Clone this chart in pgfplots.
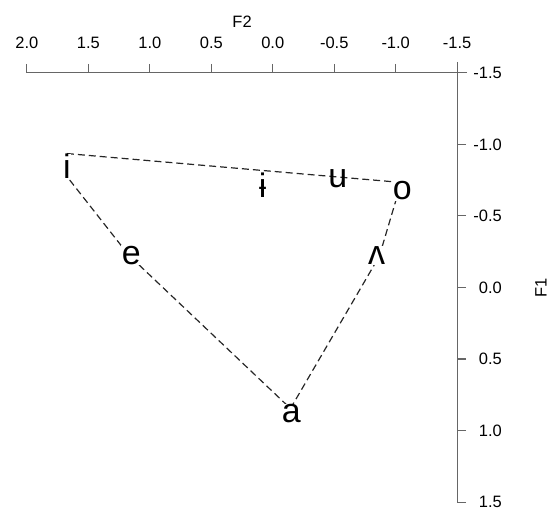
\documentclass[border=0pt]{standalone}
\usepackage{fontspec}
\setmainfont{Liberation Sans}
\usepackage{pgfplots}
\pgfplotsset{compat=1.18}
\usepackage{pgfplotstable}

\pgfplotstableread{
x y
1.675 -0.936
-1.045 -0.734
-0.867 -0.219
-0.144 0.846
1.172 -0.226
1.675 -0.776
}\outline

\pgfplotstableread{
x y lab
1.675 -0.846 i
-1.053 -0.675 o
1.150 -0.226 e
-0.845 -0.221 ʌ
-0.150 0.880 a
}\vfilled

\pgfplotstableread{
x y lab
0.083 -0.713 ɨ
-0.530 -0.762 u
}\vplain

\begin{document}
\begin{tikzpicture}
\begin{axis}[
  scale only axis, width=431pt, height=430pt,
  xmin=-1.5, xmax=2.0, ymin=-1.5, ymax=1.5,
  x dir=reverse, y dir=reverse,
  axis x line*=top, axis y line*=right,
  axis line style={black!60, line width=1.1pt, -},
  x axis line style={shorten <=-10pt},
  y axis line style={shorten <=-11pt},
  xtick pos=right, ytick pos=right,
  xtick align=outside, ytick align=outside,
  every tick/.style={black!60, line width=1.1pt},
  major tick length=9pt,
  xtick={-1.5,-1.0,-0.5,0.0,0.5,1.0,1.5,2.0},
  xticklabels={-1.5,-1.0,-0.5,0.0,0.5,1.0,1.5,2.0},
  ytick={-1.5,-1.0,-0.5,0.0,0.5,1.0,1.5},
  yticklabels={-1.5,-1.0,-0.5,0.0,0.5,1.0,1.5},
  tick label style={font=\fontsize{16.5}{18}\selectfont, inner sep=0pt},
  xticklabel style={anchor=base, yshift=15.6pt},
  yticklabel style={anchor=east, xshift=36pt},
  label style={font=\fontsize{16.5}{18}\selectfont},
  xlabel={F2}, ylabel={F1},
  xlabel style={at={(axis description cs:0.5,1)}, anchor=center, yshift=51pt},
  ylabel style={at={(axis description cs:1,0.5)}, anchor=center, yshift=-84pt},
  clip=false,
]
\addplot[black!85, line width=1.2pt, dash pattern=on 7pt off 4pt] table[x=x,y=y] {\outline};
\addplot[only marks, mark=none, nodes near coords, point meta=explicit symbolic,
  nodes near coords style={anchor=center, font=\fontsize{34}{36}\selectfont, fill=white, inner sep=0.5pt}]
  table[x=x,y=y,meta=lab] {\vfilled};
\addplot[only marks, mark=none, nodes near coords, point meta=explicit symbolic,
  nodes near coords style={anchor=center, font=\fontsize{34}{36}\selectfont, inner sep=0pt}]
  table[x=x,y=y,meta=lab] {\vplain};
\end{axis}
\path ([xshift=-27pt,yshift=-21pt]current axis.south west) rectangle ([xshift=92pt,yshift=73pt]current axis.north east);
\end{tikzpicture}
\end{document}
